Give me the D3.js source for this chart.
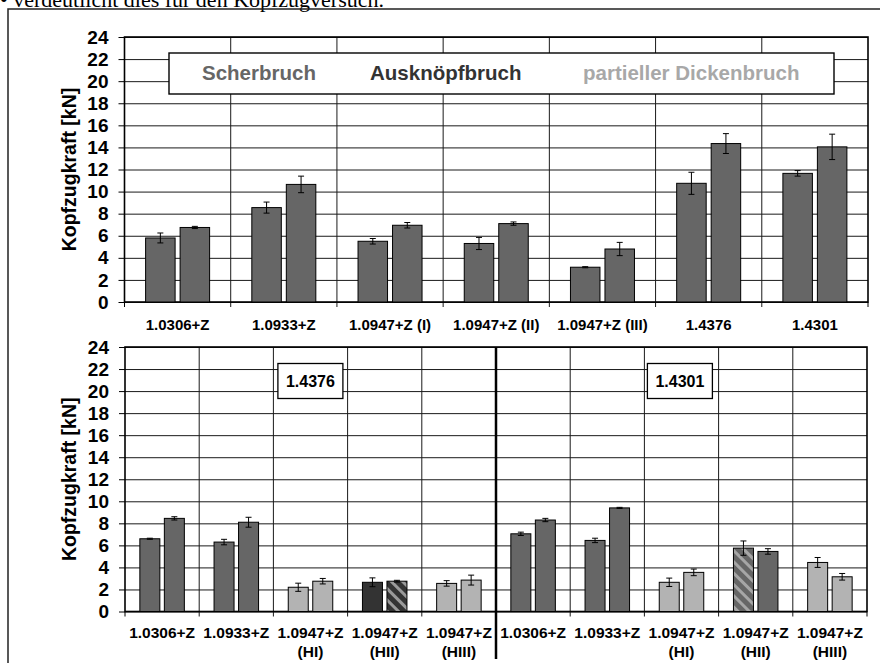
<!DOCTYPE html>
<html><head><meta charset="utf-8">
<script src="https://cdn.jsdelivr.net/npm/d3@7"></script>
<style>
html,body{margin:0;padding:0;background:#fff;overflow:hidden;}
svg{display:block;}
</style></head>
<body>
<svg id="c" width="880" height="666"></svg>
<script>
// ---------- data ----------
const yTicks = [0,2,4,6,8,10,12,14,16,18,20,22,24];
const legendLabels = ["Scherbruch","Ausknöpfbruch","partieller Dickenbruch"];

const topCategories = ["1.0306+Z","1.0933+Z","1.0947+Z (I)","1.0947+Z (II)","1.0947+Z (III)","1.4376","1.4301"];
const topBar1 = [5.8, 8.55, 5.5, 5.3, 3.15, 10.75, 11.65];
const topErr1 = [0.45, 0.5, 0.25, 0.55, 0.05, 1.0, 0.25];
const topBar2 = [6.75, 10.65, 6.95, 7.1, 4.8, 14.35, 14.05];
const topErr2 = [0.1, 0.75, 0.25, 0.15, 0.6, 0.9, 1.15];

const bottomGroups = ["1.4376","1.4301"];
const bottomLine1 = ["1.0306+Z","1.0933+Z","1.0947+Z","1.0947+Z","1.0947+Z","1.0306+Z","1.0933+Z","1.0947+Z","1.0947+Z","1.0947+Z"];
const bottomLine2 = ["","","(HI)","(HII)","(HIII)","","","(HI)","(HII)","(HIII)"];
const bottomBar1 = [6.6, 6.3, 2.2, 2.65, 2.55, 7.05, 6.45, 2.65, 5.75, 4.45];
const bottomErr1 = [0.05, 0.25, 0.37, 0.4, 0.25, 0.15, 0.2, 0.38, 0.65, 0.45];
const bottomBar2 = [8.45, 8.1, 2.75, 2.75, 2.85, 8.3, 9.4, 3.55, 5.45, 3.15];
const bottomErr2 = [0.15, 0.45, 0.25, 0.08, 0.45, 0.15, 0.05, 0.3, 0.25, 0.3];
// S = Scherbruch, A = Ausknöpfbruch, D = partieller Dickenbruch, AD / SD = mixed (hatched)
const bottomType1 = ["S","S","D","A","D","S","S","D","SD","D"];
const bottomType2 = ["S","S","D","AD","D","S","S","D","S","D"];

// ---------- style ----------
const FONT = "'Liberation Sans', Arial, Helvetica, sans-serif";
const fills = {S:"#666666", A:"#333333", D:"#b3b3b3", AD:"url(#hatchAD)", SD:"url(#hatchSD)"};
const legendColors = ["#666666","#333333","#a8a8a8"];
const GRID = "#1a1a1a";

const svg = d3.select("#c");
const defs = svg.append("defs");
function hatch(id, base, stripe){
  const p = defs.append("pattern").attr("id", id).attr("patternUnits","userSpaceOnUse")
    .attr("width", 8).attr("height", 8).attr("patternTransform","rotate(-45)");
  p.append("rect").attr("width",8).attr("height",8).attr("fill",base);
  p.append("rect").attr("x",0).attr("width",3).attr("height",8).attr("fill",stripe);
}
hatch("hatchAD", "#333333", "#9a9a9a");
hatch("hatchSD", "#666666", "#a6a6a6");

// cut-off text line above the figure (as in the reference)
svg.append("text").attr("x", 0).attr("y", 7)
  .style("font-family","'Liberation Serif','Times New Roman',serif").style("font-size","22px")
  .attr("fill","#000").text("• verdeutlicht dies für den Kopfzugversuch.");

// outer frame
svg.append("path").attr("d", d3.line()([[8,663],[8,9],[880,9]]))
  .attr("fill","none").attr("stroke","#222").attr("stroke-width",1.5);

function drawPanel(cfg){
  const g = svg.append("g");
  const x = d3.scaleBand().domain(d3.range(cfg.n)).range([cfg.left, cfg.right]).padding(0);
  const y = d3.scaleLinear().domain([0,24]).range([cfg.bottom, cfg.top]);
  const inner = d3.scaleBand().domain([0,1]).range([0, cfg.barGroup]).paddingInner(cfg.barPad);
  const off = (x.bandwidth() - cfg.barGroup) / 2;

  // horizontal grid
  g.append("g").attr("transform",`translate(${cfg.left},0)`)
    .call(d3.axisLeft(y).tickValues(yTicks).tickSize(-(cfg.right - cfg.left)).tickFormat(""))
    .call(a => a.select(".domain").remove())
    .call(a => a.selectAll("line").attr("stroke", GRID).attr("stroke-width",1));
  // vertical grid at category boundaries
  const bounds = d3.range(1, cfg.n).map(i => x(i));
  g.selectAll(".vg").data(bounds).join("line")
    .attr("x1", d => d).attr("x2", d => d)
    .attr("y1", cfg.top).attr("y2", cfg.bottom + 5)
    .attr("stroke", GRID).attr("stroke-width",1);

  // y axis
  g.append("g").attr("transform",`translate(${cfg.left},0)`)
    .call(d3.axisLeft(y).tickValues(yTicks).tickSize(6).tickPadding(10).tickFormat(d3.format("d")))
    .call(a => a.select(".domain").remove())
    .call(a => a.selectAll("line").attr("stroke","#000"))
    .call(a => a.selectAll("text").style("font-family",FONT).style("font-size","19px")
      .style("font-weight","bold").attr("fill","#000"));

  // plot frame
  g.append("rect").attr("x", cfg.left).attr("y", cfg.top)
    .attr("width", cfg.right - cfg.left).attr("height", cfg.bottom - cfg.top)
    .attr("fill","none").attr("stroke","#000").attr("stroke-width",1.6);
  [cfg.left, cfg.right].forEach(v => g.append("line").attr("x1",v).attr("x2",v)
    .attr("y1",cfg.bottom).attr("y2",cfg.bottom+5).attr("stroke","#000"));

  // bars
  const rows = [];
  for (let i = 0; i < cfg.n; i++) {
    rows.push({i, k:0, v:cfg.v1[i], e:cfg.e1[i], t:cfg.t1[i]});
    rows.push({i, k:1, v:cfg.v2[i], e:cfg.e2[i], t:cfg.t2[i]});
  }
  g.selectAll(".bar").data(rows).join("rect")
    .attr("x", d => x(d.i) + off + inner(d.k))
    .attr("y", d => y(d.v))
    .attr("width", inner.bandwidth())
    .attr("height", d => y(0) - y(d.v))
    .attr("fill", d => fills[d.t]).attr("stroke","#000").attr("stroke-width",1);

  // error bars
  const eg = g.selectAll(".err").data(rows).join("g")
    .attr("transform", d => `translate(${x(d.i) + off + inner(d.k) + inner.bandwidth()/2},0)`);
  eg.append("line").attr("y1", d => y(d.v + d.e)).attr("y2", d => y(d.v - d.e))
    .attr("stroke","#000").attr("stroke-width",1);
  eg.append("line").attr("x1",-3).attr("x2",3).attr("y1", d => y(d.v + d.e)).attr("y2", d => y(d.v + d.e))
    .attr("stroke","#000").attr("stroke-width",1);
  eg.append("line").attr("x1",-3).attr("x2",3).attr("y1", d => y(d.v - d.e)).attr("y2", d => y(d.v - d.e))
    .attr("stroke","#000").attr("stroke-width",1);

  // y axis title
  g.append("text")
    .attr("transform", `translate(${cfg.left - 56},${(cfg.top + cfg.bottom)/2}) rotate(-90)`)
    .attr("text-anchor","middle").attr("dy","0.36em")
    .style("font-family",FONT).style("font-size","19.5px").style("font-weight","bold")
    .text("Kopfzugkraft [kN]");

  return {g, x, y};
}

// ---------- top panel ----------
const T = drawPanel({n: topCategories.length, left:124.5, right:868, top:37, bottom:302,
  barGroup:64, barPad:0.145,
  v1:topBar1, e1:topErr1, v2:topBar2, e2:topErr2,
  t1:topCategories.map(()=> "S"), t2:topCategories.map(()=> "S")});
T.g.selectAll(".xl").data(topCategories).join("text")
  .attr("x", (d,i) => T.x(i) + T.x.bandwidth()/2).attr("y", 330)
  .attr("text-anchor","middle")
  .style("font-family",FONT).style("font-size","15px").style("font-weight","bold")
  .text(d => d);

// legend box
const lg = svg.append("g");
lg.append("rect").attr("x",169).attr("y",53).attr("width",665).attr("height",41)
  .attr("fill","#fff").attr("stroke","#000").attr("stroke-width",1.4);
const legendX = [202, 370, 583];
lg.selectAll("text").data(legendLabels).join("text")
  .attr("x",(d,i)=>legendX[i]).attr("y",80)
  .style("font-family",FONT).style("font-size","20.5px").style("font-weight","bold")
  .attr("fill",(d,i)=>legendColors[i]).text(d=>d);

// ---------- bottom panel ----------
const B = drawPanel({n: bottomLine1.length, left:125, right:867, top:347, bottom:611.5,
  barGroup:44.5, barPad:0.184,
  v1:bottomBar1, e1:bottomErr1, v2:bottomBar2, e2:bottomErr2,
  t1:bottomType1, t2:bottomType2});
B.g.selectAll(".xl1").data(bottomLine1).join("text")
  .attr("x", (d,i) => B.x(i) + B.x.bandwidth()/2).attr("y", 638)
  .attr("text-anchor","middle")
  .style("font-family",FONT).style("font-size","15.5px").style("font-weight","bold")
  .text(d => d);
B.g.selectAll(".xl2").data(bottomLine2).join("text")
  .attr("x", (d,i) => B.x(i) + B.x.bandwidth()/2).attr("y", 657)
  .attr("text-anchor","middle")
  .style("font-family",FONT).style("font-size","15.5px").style("font-weight","bold")
  .text(d => d);
// thick divider between the two material groups
const divX = B.x(5);
B.g.append("line").attr("x1",divX).attr("x2",divX).attr("y1",347).attr("y2",659)
  .attr("stroke","#000").attr("stroke-width",2.5);
// group label boxes
const boxX = [B.x(2) + 4.5, B.x(7) + 3];
bottomGroups.forEach((lab, j) => {
  const bg = svg.append("g").attr("transform",`translate(${boxX[j]},${363.5})`);
  bg.append("rect").attr("width",65).attr("height",35).attr("fill","#fff")
    .attr("stroke","#000").attr("stroke-width",1.3);
  bg.append("text").attr("x",32.5).attr("y",23).attr("text-anchor","middle")
    .style("font-family",FONT).style("font-size","16px").style("font-weight","bold").text(lab);
});
</script>
</body></html>
